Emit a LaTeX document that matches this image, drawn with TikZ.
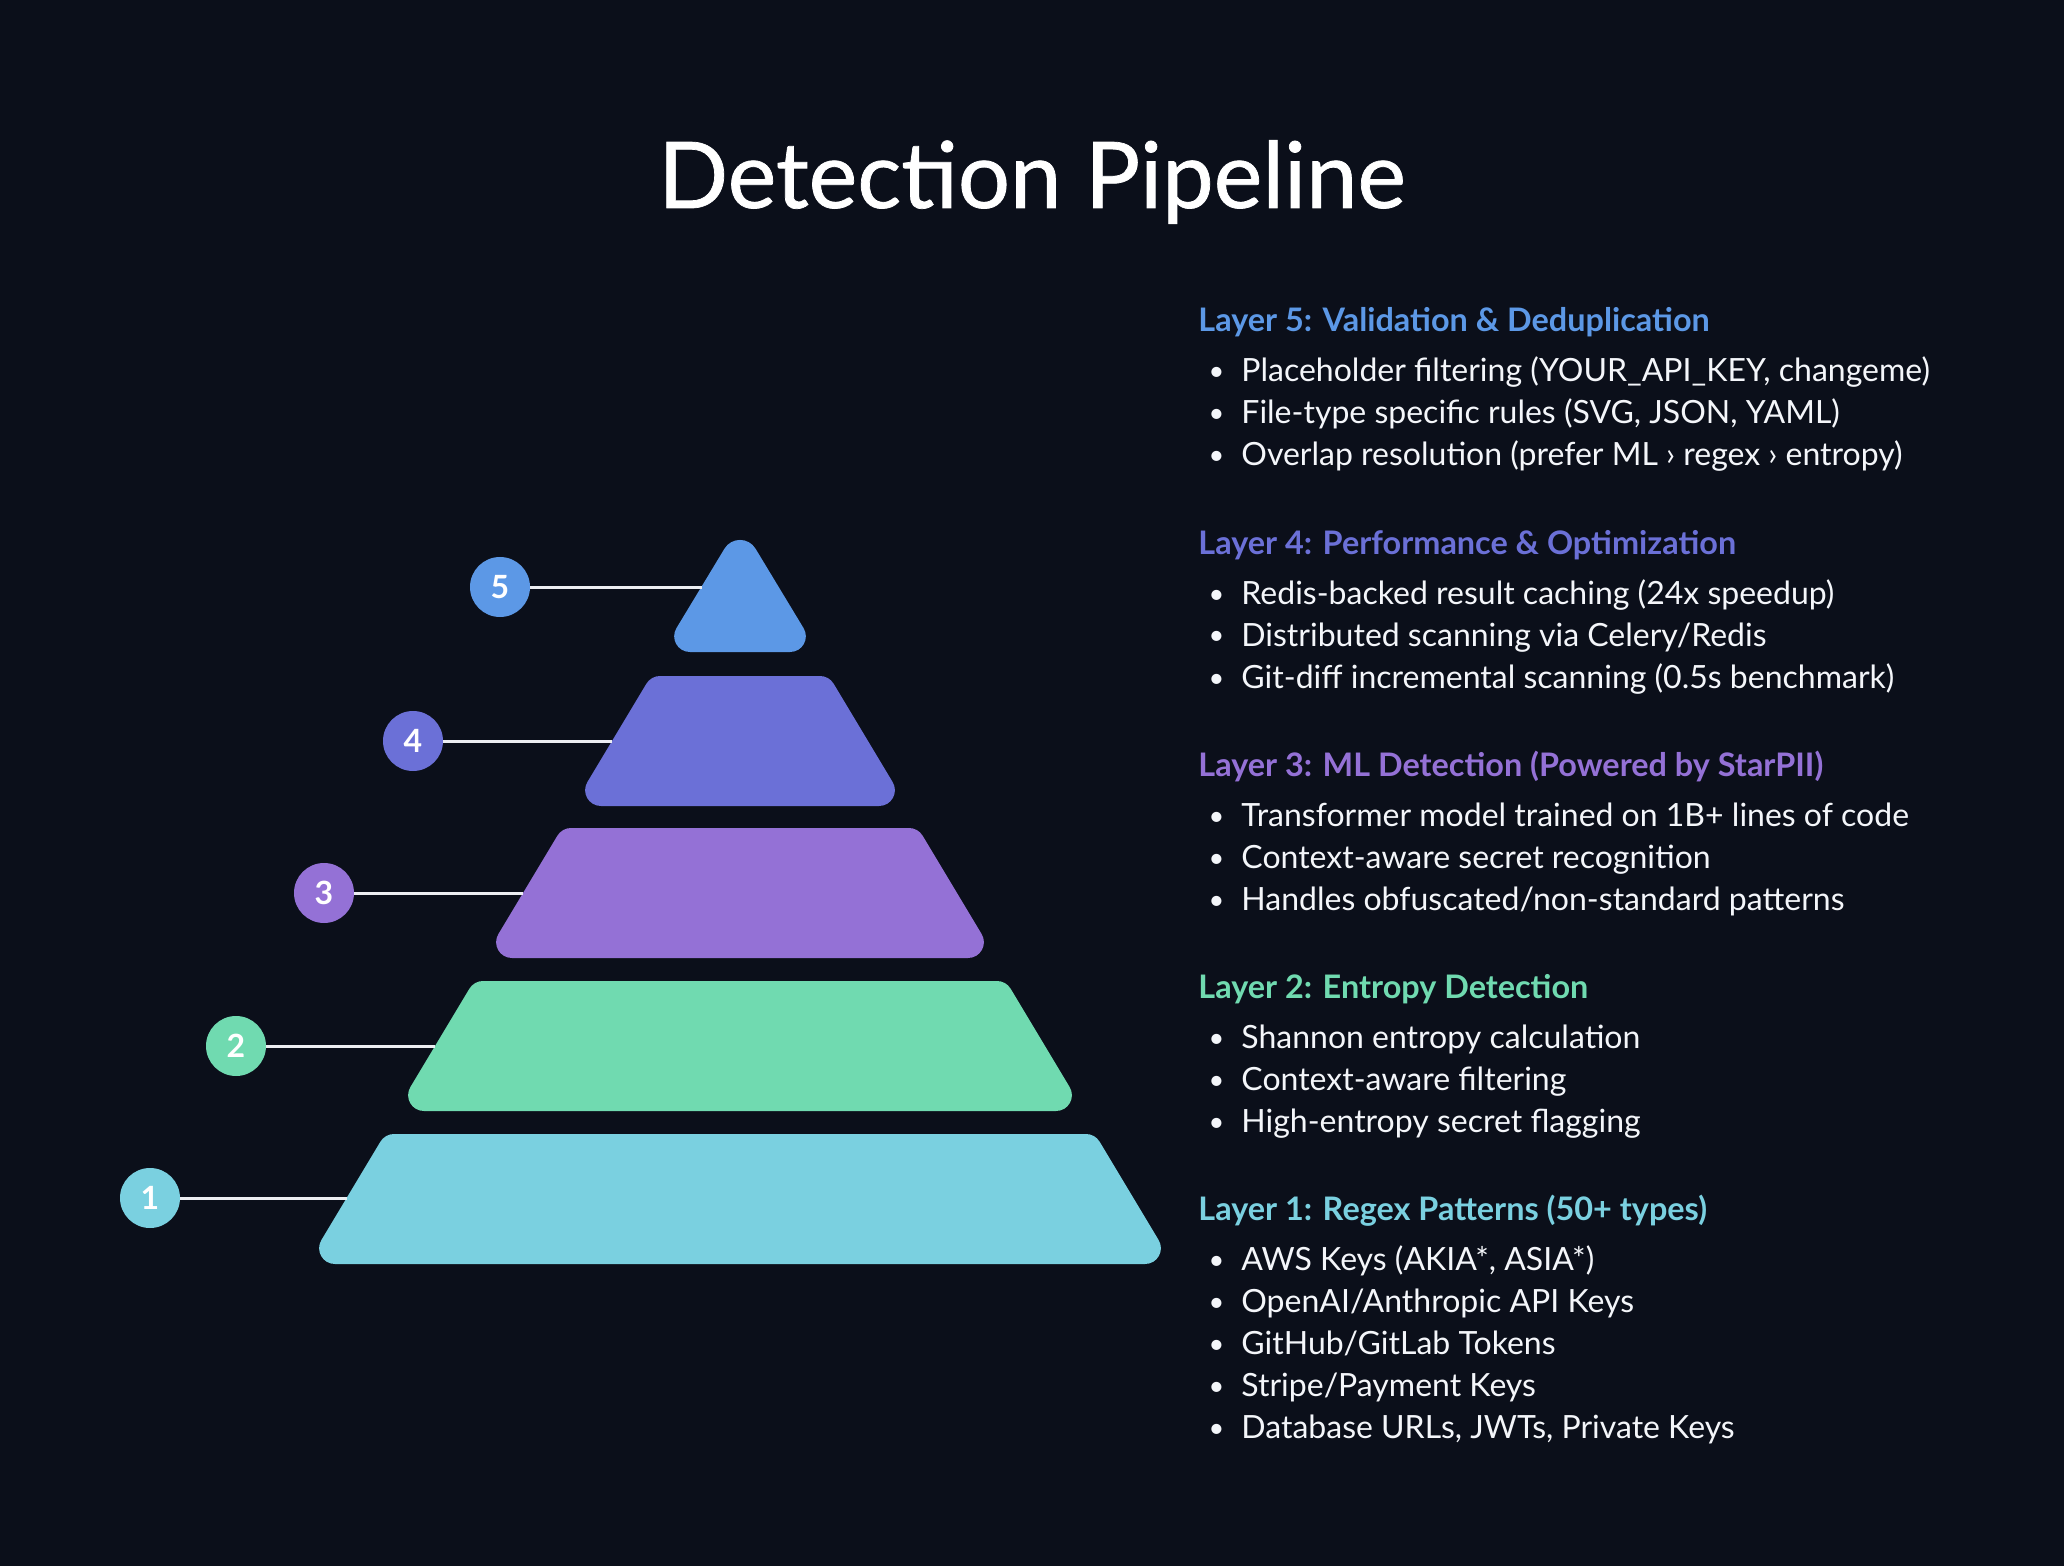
\documentclass[tikz,border=0pt]{standalone}
\usepackage{fontspec}
\setmainfont{Lato}
\newfontfamily\titlefont[FakeBold=0.8]{Lato}
\usetikzlibrary{calc}
\definecolor{bg}{HTML}{0B0F1A}
\definecolor{cL1}{HTML}{7AD0E0}
\definecolor{cL2}{HTML}{70DAB0}
\definecolor{cL3}{HTML}{9471D6}
\definecolor{cL4}{HTML}{6B70D7}
\definecolor{cL5}{HTML}{5C98E6}
\definecolor{txt}{HTML}{F4F6FA}
\definecolor{lineclr}{HTML}{ECEEF2}
\newcommand{\bul}{\llap{\raisebox{0.5pt}{\scalebox{0.85}{•}}\hspace{8.5pt}}}
% trapezoid with round corners: #1 colour, #2 bottom-left, #3 top-left, #4 top-right, #5 bottom-right
\newcommand{\trapfill}[5]{%
  \fill[#1] ($(#2)!14pt!(#5)$)
    .. controls ($(#2)!7.8pt!(#5)$) and ($(#2)!7.8pt!(#3)$) .. ($(#2)!14pt!(#3)$)
    -- ($(#3)!4.5pt!(#2)$)
    .. controls ($(#3)!1.7pt!(#2)$) and ($(#3)!1.7pt!(#4)$) .. ($(#3)!4.5pt!(#4)$)
    -- ($(#4)!4.5pt!(#3)$)
    .. controls ($(#4)!1.7pt!(#3)$) and ($(#4)!1.7pt!(#5)$) .. ($(#4)!4.5pt!(#5)$)
    -- ($(#5)!14pt!(#4)$)
    .. controls ($(#5)!7.8pt!(#4)$) and ($(#5)!7.8pt!(#2)$) .. ($(#5)!14pt!(#2)$)
    -- cycle;}
\begin{document}
\begin{tikzpicture}[x=0.5pt,y=-0.5pt,
  numc/.style={circle,minimum size=30pt,inner sep=0pt,text=white,font=\bfseries\fontsize{16}{16}\selectfont},
  conn/.style={draw=lineclr,line width=1.5pt},
  head/.style={anchor=base west,inner sep=0pt,font=\bfseries\fontsize{16.2}{20}\selectfont},
  item/.style={anchor=base west,inner sep=0pt,text=txt,font=\fontsize{16}{20}\selectfont},
  title/.style={anchor=base,inner sep=0pt,text=white,font=\titlefont\fontsize{46}{50}\selectfont}]
\fill[bg] (0,0) rectangle (2064,1566);
\useasboundingbox (0,0) rectangle (2064,1566);

\node[title] (title) at (1032,208) {Detection Pipeline};

% pyramid corner points (centre x = 740)
\coordinate (A1) at (307,1264); \coordinate (B1) at (385,1134);
\coordinate (C1) at (1095,1134); \coordinate (D1) at (1173,1264);
\coordinate (A2) at (396,1111); \coordinate (B2) at (474,981);
\coordinate (C2) at (1006,981); \coordinate (D2) at (1084,1111);
\coordinate (A3) at (484,958); \coordinate (B3) at (562,828);
\coordinate (C3) at (918,828); \coordinate (D3) at (996,958);
\coordinate (A4) at (573,806); \coordinate (B4) at (651,676);
\coordinate (C4) at (829,676); \coordinate (D4) at (907,806);
\coordinate (A5) at (662,652); \coordinate (P5) at (740,523);
\coordinate (D5) at (818,652);

\trapfill{cL1}{A1}{B1}{C1}{D1}
\trapfill{cL2}{A2}{B2}{C2}{D2}
\trapfill{cL3}{A3}{B3}{C3}{D3}
\trapfill{cL4}{A4}{B4}{C4}{D4}
\fill[cL5] ($(A5)!14pt!(D5)$)
    .. controls ($(A5)!7.8pt!(D5)$) and ($(A5)!7.8pt!(P5)$) .. ($(A5)!14pt!(P5)$)
    -- ($(P5)!15pt!(A5)$)
    .. controls ($(P5)!8.2pt!(A5)$) and ($(P5)!8.2pt!(D5)$) .. ($(P5)!15pt!(D5)$)
    -- ($(D5)!14pt!(P5)$)
    .. controls ($(D5)!7.8pt!(P5)$) and ($(D5)!7.8pt!(A5)$) .. ($(D5)!14pt!(A5)$)
    -- cycle;

% where the leader lines meet the layers
\coordinate (l1) at (347,1198);
\coordinate (l2) at (435,1046);
\coordinate (l3) at (523,893);
\coordinate (l4) at (612,741);
\coordinate (l5) at (702,587);

\node[numc,fill=cL1] (n1) at (150,1198) {1};
\node[numc,fill=cL2] (n2) at (236,1046) {2};
\node[numc,fill=cL3] (n3) at (324,893) {3};
\node[numc,fill=cL4] (n4) at (413,741) {4};
\node[numc,fill=cL5] (n5) at (500,587) {5};

\draw[conn] (n1.east) -- (l1);
\draw[conn] (n2.east) -- (l2);
\draw[conn] (n3.east) -- (l3);
\draw[conn] (n4.east) -- (l4);
\draw[conn] (n5.east) -- (l5);

% text column
\node[head,text=cL5] (h5) at (1198,332) {Layer 5: Validation \& Deduplication};
\node[item] (b51) at (1241,382) {\bul Placeholder filtering (YOUR\_API\_KEY, changeme)};
\node[item] (b52) at (1241,424) {\bul File-type specific rules (SVG, JSON, YAML)};
\node[item] (b53) at (1241,466) {\bul Overlap resolution (prefer ML › regex › entropy)};

\node[head,text=cL4] (h4) at (1198,554) {Layer 4: Performance \& Optimization};
\node[item] (b41) at (1241,604) {\bul Redis-backed result caching (24x speedup)};
\node[item] (b42) at (1241,646) {\bul Distributed scanning via Celery/Redis};
\node[item] (b43) at (1241,688) {\bul Git-diff incremental scanning (0.5s benchmark)};

\node[head,text=cL3] (h3) at (1198,776) {Layer 3: ML Detection (Powered by StarPII)};
\node[item] (b31) at (1241,826) {\bul Transformer model trained on 1B+ lines of code};
\node[item] (b32) at (1241,868) {\bul Context-aware secret recognition};
\node[item] (b33) at (1241,910) {\bul Handles obfuscated/non-standard patterns};

\node[head,text=cL2] (h2) at (1198,998) {Layer 2: Entropy Detection};
\node[item] (b21) at (1241,1048) {\bul Shannon entropy calculation};
\node[item] (b22) at (1241,1090) {\bul Context-aware filtering};
\node[item] (b23) at (1241,1132) {\bul High-entropy secret flagging};

\node[head,text=cL1] (h1) at (1198,1220) {Layer 1: Regex Patterns (50+ types)};
\node[item] (b11) at (1241,1270) {\bul AWS Keys (AKIA*, ASIA*)};
\node[item] (b12) at (1241,1312) {\bul OpenAI/Anthropic API Keys};
\node[item] (b13) at (1241,1354) {\bul GitHub/GitLab Tokens};
\node[item] (b14) at (1241,1396) {\bul Stripe/Payment Keys};
\node[item] (b15) at (1241,1438) {\bul Database URLs, JWTs, Private Keys};
\end{tikzpicture}
\end{document}
